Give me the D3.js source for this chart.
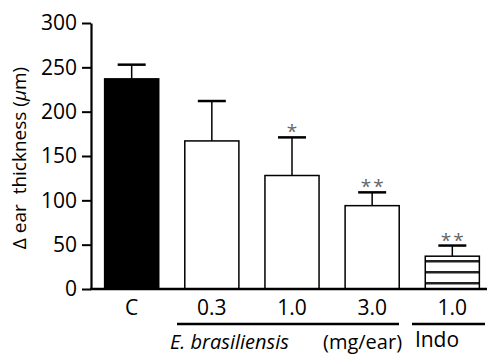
<!DOCTYPE html>
<html>
<head>
<meta charset="utf-8">
<script src="https://cdn.jsdelivr.net/npm/d3@7"></script>
<style>
  body { margin: 0; background: #fff; }
  svg { display: block; font-family: "Open Sans", sans-serif; }
</style>
</head>
<body>
<div id="chart"></div>
<script>
// data
const categories = ["C", "0.3", "1.0", "3.0", "1.0 "]
const means = [237, 167, 128, 94, 37]
const errors = [16, 45, 43, 15, 12]
const stars = ["", "", "*", "**", "**"]
const fills = ["black", "white", "white", "white", "stripes"]
const yTicks = [0, 50, 100, 150, 200, 250, 300]

const width = 489, height = 354
const margin = {left: 91, top: 23, bottom: 65}
const y0 = height - margin.bottom

const svg = d3.select("#chart").append("svg")
    .attr("width", width)
    .attr("height", height)

const defs = svg.append("defs")
defs.append("pattern")
    .attr("id", "stripes")
    .attr("patternUnits", "userSpaceOnUse")
    .attr("width", 10).attr("height", 11)
    .attr("y", y0 - 7)
    .append("rect")
    .attr("width", 10).attr("height", 2.5).attr("y", 0)
    .attr("fill", "#222")

const x = d3.scaleBand()
    .domain(categories)
    .range([margin.left, margin.left + 402])
    .paddingInner(0.325)
    .paddingOuter(0.17)

const y = d3.scaleLinear()
    .domain([0, 300])
    .range([y0, margin.top])

// y axis
const yAxis = svg.append("g")
    .attr("transform", `translate(${margin.left},0)`)
    .call(d3.axisLeft(y).tickValues(yTicks).tickSize(9).tickPadding(5).tickSizeOuter(0))
yAxis.select(".domain").attr("stroke-width", 2.2)
yAxis.selectAll(".tick line").attr("stroke-width", 2)
yAxis.selectAll(".tick text").attr("font-size", 21).attr("fill", "#000")
    .attr("font-family", "Open Sans, sans-serif")

// bars
const bars = svg.append("g")
bars.selectAll("rect")
    .data(means)
    .join("rect")
    .attr("x", (d, i) => x(categories[i]))
    .attr("y", d => y(d))
    .attr("width", x.bandwidth())
    .attr("height", d => y0 - y(d))
    .attr("fill", (d, i) => fills[i] == "stripes" ? "url(#stripes)" : fills[i])
    .attr("stroke", "#000")
    .attr("stroke-width", 1.5)

// error bars (upper only)
const err = svg.append("g").attr("stroke", "#000")
means.forEach((m, i) => {
    const cx = x(categories[i]) + x.bandwidth() / 2
    err.append("line")
        .attr("x1", cx).attr("x2", cx)
        .attr("y1", y(m)).attr("y2", y(m + errors[i]))
        .attr("stroke-width", 1.5)
    err.append("line")
        .attr("x1", cx - 14).attr("x2", cx + 14)
        .attr("y1", y(m + errors[i])).attr("y2", y(m + errors[i]))
        .attr("stroke-width", 2.5)
    if (stars[i]) {
        svg.append("text")
            .attr("x", cx + 1).attr("y", y(m + errors[i]) + 1)
            .attr("text-anchor", "middle")
            .attr("font-size", 19)
            .attr("fill", "#666")
            .attr("letter-spacing", 2)
            .text(stars[i])
    }
})

// x axis baseline
svg.append("line")
    .attr("x1", margin.left - 1).attr("x2", 487)
    .attr("y1", y0).attr("y2", y0)
    .attr("stroke", "#000").attr("stroke-width", 2.5)

svg.append("g").selectAll("text")
    .data(categories)
    .join("text")
    .attr("x", d => x(d) + x.bandwidth() / 2)
    .attr("y", y0 + 26)
    .attr("text-anchor", "middle")
    .attr("font-size", 21)
    .text(d => d.trim())

// group brackets
const groups = [
    {from: 1, to: 3, x1: 177, x2: 399},
    {from: 4, to: 4, x1: 412, x2: 485}
]
svg.append("g").selectAll("line")
    .data(groups)
    .join("line")
    .attr("x1", d => d.x1).attr("x2", d => d.x2)
    .attr("y1", y0 + 35).attr("y2", y0 + 35)
    .attr("stroke", "#000").attr("stroke-width", 2.5)

svg.append("text")
    .attr("x", 170).attr("y", 349)
    .attr("font-size", 20)
    .attr("font-style", "italic")
    .text("E. brasiliensis")
svg.append("text")
    .attr("x", 323).attr("y", 349)
    .attr("font-size", 20)
    .text("(mg/ear)")
svg.append("text")
    .attr("x", 437).attr("y", 347)
    .attr("text-anchor", "middle")
    .attr("font-size", 21)
    .text("Indo")

// y label
const yl = svg.append("text")
    .attr("transform", `translate(26,${158}) rotate(-90)`)
    .attr("text-anchor", "middle")
    .attr("font-size", 19)
yl.append("tspan").text("\u0394 ear\u00a0 thickness (")
yl.append("tspan").attr("font-style", "italic").text("\u03bc")
yl.append("tspan").text("m)")
</script>
</body>
</html>
